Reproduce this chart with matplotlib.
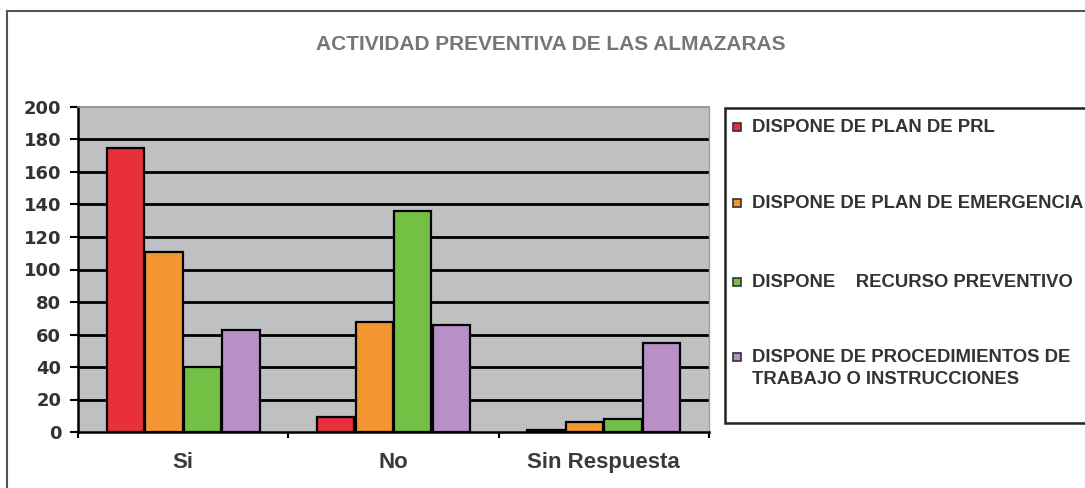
import matplotlib
matplotlib.use("Agg")
import matplotlib.pyplot as plt
from matplotlib.patches import Rectangle
from matplotlib.lines import Line2D
import numpy as np

categories = ["Si", "No", "Sin Respuesta"]
series_names = [
    "DISPONE DE PLAN DE PRL",
    "DISPONE DE PLAN DE EMERGENCIA",
    "DISPONE    RECURSO PREVENTIVO",
    "DISPONE DE PROCEDIMIENTOS DE\nTRABAJO O INSTRUCCIONES",
]
plan_prl = [175, 9, 1]
plan_emergencia = [111, 68, 6]
recurso_preventivo = [40, 136, 8]
procedimientos = [63, 66, 55]
y_ticks = [0, 20, 40, 60, 80, 100, 120, 140, 160, 180, 200]

series = [plan_prl, plan_emergencia, recurso_preventivo, procedimientos]
colors = ["#E8303A", "#F39530", "#74C044", "#B98FC8"]

plt.rcParams["font.family"] = ["Liberation Sans", "DejaVu Sans"]

W, H = 1085, 488
fig = plt.figure(figsize=(W / 100, H / 100), dpi=100)
fig.patch.set_facecolor("white")

# outer frame (top and left edges)
fig.add_artist(Line2D([7 / W, 1.0], [1 - 11 / H, 1 - 11 / H], color="#555555", lw=1.5))
fig.add_artist(Line2D([7 / W, 7 / W], [0, 1 - 11 / H], color="#555555", lw=1.5))

fig.text(551 / W, 1 - 45 / H, "ACTIVIDAD PREVENTIVA DE LAS ALMAZARAS",
         ha="center", va="center", fontsize=15, fontweight="bold", color="#767676")

ax = fig.add_axes([78 / W, 1 - 432 / H, 631 / W, 325 / H])
ax.set_facecolor("#BFC0C2")

x = np.arange(len(categories))
width = 0.178
step = 0.183
for i, (vals, col) in enumerate(zip(series, colors)):
    ax.bar(x + (i - 1.5) * step, vals, width, color=col, edgecolor="black",
           linewidth=1.6, zorder=3)

ax.set_xlim(-0.5, len(categories) - 0.5)
ax.set_ylim(0, 200)
ax.set_yticks(y_ticks)
ax.set_yticklabels([str(v) for v in y_ticks])
for v in y_ticks[1:-1]:
    ax.axhline(v, color="black", lw=2.0, zorder=2)

ax.set_xticks(np.arange(len(categories) + 1) - 0.5, minor=False)
ax.set_xticklabels([])
ax.tick_params(axis="x", direction="out", length=4.5, width=1.5, color="black")
ax.tick_params(axis="y", direction="out", length=6, width=1.5, color="black",
               pad=6, labelsize=13, labelcolor="#333333")
for lab in ax.get_yticklabels():
    lab.set_fontweight("bold")
    lab.set_family("DejaVu Sans")

for i, c in enumerate(categories):
    ax.text(x[i], -0.095, c, transform=ax.get_xaxis_transform(), ha="center",
            va="center", fontsize=16, fontweight="bold", color="#3a3a3a")

ax.spines["left"].set_color("black")
ax.spines["left"].set_linewidth(1.8)
ax.spines["bottom"].set_color("black")
ax.spines["bottom"].set_linewidth(1.8)
ax.spines["top"].set_color("#8A8A8A")
ax.spines["top"].set_linewidth(1.2)
ax.spines["right"].set_color("#A0A0A0")
ax.spines["right"].set_linewidth(1.0)
for s in ax.spines.values():
    s.set_zorder(4)

# legend box
lx0, ly0, lx1, ly1 = 725, 108, 1095, 423
fig.add_artist(Rectangle((lx0 / W, 1 - ly1 / H), (lx1 - lx0) / W, (ly1 - ly0) / H,
                         facecolor="white", edgecolor="#222222", lw=1.8,
                         transform=fig.transFigure))
entry_y = [127, 203, 282, 357]
for name, col, yy in zip(series_names, colors, entry_y):
    fig.add_artist(Rectangle((733 / W, 1 - (yy + 4) / H), 8 / W, 8 / H,
                             facecolor=col, edgecolor="#333333", lw=1.2,
                             transform=fig.transFigure))
    fig.text(752 / W, 1 - (yy - 8) / H, name, ha="left", va="top",
             fontsize=13.3, fontweight="bold", color="#333333", linespacing=1.35)

fig.savefig("out.png", dpi=100)
